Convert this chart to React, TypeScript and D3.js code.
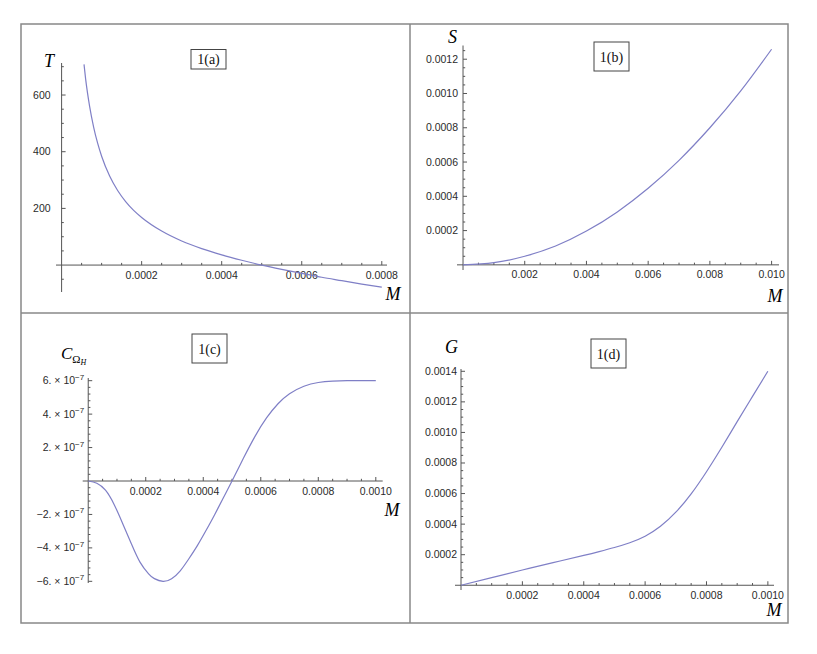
import React from "react";
import * as d3 from "d3";

// ---------- data ----------
const aM = [0.000056, 0.00006, 0.00007, 0.00008, 0.00009, 0.0001, 0.00012, 0.00014, 0.00016, 0.00018, 0.0002, 0.00025, 0.0003, 0.00035, 0.0004, 0.00045, 0.0005, 0.00055, 0.0006, 0.00065, 0.0007, 0.00075, 0.0008];
const aT = [708, 657, 560, 487, 430, 384, 314, 263, 224, 193, 168, 120, 85, 58, 36, 17, 0, -15, -29, -43, -55, -67, -78];

const bM = [0, 0.001, 0.002, 0.003, 0.004, 0.005, 0.006, 0.007, 0.008, 0.009, 0.01];
const bS = [0, 0.000013, 0.00005, 0.00011, 0.000197, 0.000309, 0.000447, 0.00061, 0.0008, 0.001015, 0.001258];

const cM = [0, 0.00003, 0.00006, 0.00009, 0.00012, 0.00015, 0.00018, 0.00021, 0.00023, 0.00026, 0.00029, 0.00032, 0.00035, 0.00038, 0.00041, 0.00044, 0.00047, 0.0005, 0.00054, 0.00058, 0.00062, 0.00066, 0.0007, 0.00075, 0.0008, 0.00085, 0.0009, 0.00095, 0.001];
const cC = [0, -0.13e-7, -0.55e-7, -1.4e-7, -2.55e-7, -3.75e-7, -4.85e-7, -5.55e-7, -5.84e-7, -6.0e-7, -5.84e-7, -5.37e-7, -4.65e-7, -3.85e-7, -2.95e-7, -2.0e-7, -1.0e-7, 0, 1.37e-7, 2.67e-7, 3.77e-7, 4.62e-7, 5.22e-7, 5.67e-7, 5.89e-7, 5.97e-7, 6.0e-7, 6.0e-7, 6.0e-7];

const dM = [0, 0.0001, 0.0002, 0.0003, 0.0004, 0.00045, 0.0005, 0.00055, 0.0006, 0.00065, 0.0007, 0.00075, 0.0008, 0.00085, 0.0009, 0.00095, 0.001];
const dG = [0, 0.00005, 0.0001, 0.000148, 0.000195, 0.00022, 0.000247, 0.000278, 0.0003205, 0.0003855, 0.000478, 0.000598, 0.000743, 0.000903, 0.0010705, 0.0012355, 0.0014005];

const aXTicks = ["0.0002", "0.0004", "0.0006", "0.0008"];
const aYTicks = ["200", "400", "600"];
const bXTicks = ["0.002", "0.004", "0.006", "0.008", "0.010"];
const bYTicks = ["0.0002", "0.0004", "0.0006", "0.0008", "0.0010", "0.0012"];
const cXTicks = ["0.0002", "0.0004", "0.0006", "0.0008", "0.0010"];
const cYTicks = ["6", "4", "2", "-2", "-4", "-6"]; // × 10^-7
const dXTicks = ["0.0002", "0.0004", "0.0006", "0.0008", "0.0010"];
const dYTicks = ["0.0002", "0.0004", "0.0006", "0.0008", "0.0010", "0.0012", "0.0014"];

const panelTags = ["1(a)", "1(b)", "1(c)", "1(d)"];

// ---------- layout ----------
const CURVE = "#7f7fc6";
const AXIS = "#555";
const TICKFONT = "'Liberation Sans Narrow', 'Liberation Sans', Arial, sans-serif";
const SERIF = "'Liberation Serif', 'Times New Roman', serif";
const TICKSIZE = 10.5;

type Panel = {
  xs: number[];
  ys: number[];
  xDom: [number, number];
  xRange: [number, number];
  yDom: [number, number];
  yRange: [number, number];
  xTicks: string[];
  yTicks: string[];
  xMinor: number;
  yMinor: number;
  yLabelGap: number;
  sci?: boolean;
  box: { x: number; y: number; w: number; h: number };
  tag: string;
  yName: React.ReactNode;
  mPos: [number, number];
  curve: d3.CurveFactory;
};

const panels: Panel[] = [
  {
    xs: aM, ys: aT,
    xDom: [-0.000014, 0.000813], xRange: [56, 387],
    yDom: [-95, 713], yRange: [292, 63],
    xTicks: aXTicks, yTicks: aYTicks, xMinor: 0.00005, yMinor: 50,
    yLabelGap: 11,
    box: { x: 191, y: 49.5, w: 35, h: 19.5 }, tag: panelTags[0],
    yName: <text x={49} y={67} fontFamily={SERIF} fontStyle="italic" fontSize={18} textAnchor="middle">T</text>,
    mPos: [393, 300],
    curve: d3.curveMonotoneX,
  },
  {
    xs: bM, ys: bS,
    xDom: [-0.000195, 0.01024], xRange: [457, 779],
    yDom: [-0.00003, 0.00128], yRange: [270, 45.5],
    xTicks: bXTicks, yTicks: bYTicks, xMinor: 0.0005, yMinor: 0.00005,
    yLabelGap: 5,
    box: { x: 594, y: 42, w: 35, h: 29 }, tag: panelTags[1],
    yName: <text x={452.5} y={43} fontFamily={SERIF} fontStyle="italic" fontSize={18} textAnchor="middle">S</text>,
    mPos: [775, 302],
    curve: d3.curveNatural,
  },
  {
    xs: cM, ys: cC,
    xDom: [-0.0000192, 0.001024], xRange: [82.7, 382.7],
    yDom: [-6.1e-7, 6.16e-7], yRange: [583, 378],
    xTicks: cXTicks, yTicks: cYTicks, xMinor: 0.00005, yMinor: 0.4e-7,
    yLabelGap: 4, sci: true,
    box: { x: 192, y: 334, w: 35, h: 29 }, tag: panelTags[2],
    yName: (
      <text x={61} y={358.5} fontFamily={SERIF} fontStyle="italic" fontSize={17}>
        C<tspan fontStyle="normal" fontSize={11} dy={4}>Ω</tspan><tspan fontSize={8} dy={2}>H</tspan>
      </text>
    ),
    mPos: [392, 516],
    curve: d3.curveNatural,
  },
  {
    xs: dM, ys: dG,
    xDom: [-0.0000196, 0.00102], xRange: [455, 774],
    yDom: [-0.000031, 0.001415], yRange: [590, 369],
    xTicks: dXTicks, yTicks: dYTicks, xMinor: 0.00005, yMinor: 0.00005,
    yLabelGap: 4,
    box: { x: 591, y: 339, w: 35, h: 29 }, tag: panelTags[3],
    yName: <text x={451.5} y={353} fontFamily={SERIF} fontStyle="italic" fontSize={18} textAnchor="middle">G</text>,
    mPos: [774, 616],
    curve: d3.curveNatural,
  },
];

function range(step: number, lo: number, hi: number) {
  const out: number[] = [];
  const start = Math.ceil(lo / step);
  const end = Math.floor(hi / step);
  for (let i = start; i <= end; i++) out.push(i * step);
  return out;
}

function PanelView({ p }: { p: Panel }) {
  const x = d3.scaleLinear().domain(p.xDom).range(p.xRange);
  const y = d3.scaleLinear().domain(p.yDom).range(p.yRange);
  const x0 = x(0);
  const y0 = y(0);
  const line = d3
    .line<number>()
    .x((_, i) => x(p.xs[i]))
    .y((v) => y(v))
    .curve(p.curve);

  const xMajorVals = p.xTicks.map((t) => +t);
  const yMajorVals = p.yTicks.map((t) => (p.sci ? +t * 1e-7 : +t));
  const isMajor = (v: number, arr: number[], step: number) =>
    arr.some((m) => Math.abs(m - v) < step * 0.1) || Math.abs(v) < step * 0.1;

  const xMinorVals = range(p.xMinor, p.xDom[0], p.xDom[1]).filter((v) => !isMajor(v, xMajorVals, p.xMinor));
  const yMinorVals = range(p.yMinor, p.yDom[0], p.yDom[1]).filter((v) => !isMajor(v, yMajorVals, p.yMinor));

  return (
    <g>
      <line x1={p.xRange[0]} x2={p.xRange[1]} y1={y0} y2={y0} stroke={AXIS} strokeWidth={1} />
      <line x1={x0} x2={x0} y1={p.yRange[0]} y2={p.yRange[1]} stroke={AXIS} strokeWidth={1} />
      {xMajorVals.map((v, i) => (
        <g key={"xm" + i}>
          <line x1={x(v)} x2={x(v)} y1={y0} y2={y0 - 4} stroke={AXIS} />
          <text x={x(v)} y={y0 + 13.5} fontFamily={TICKFONT} fontSize={TICKSIZE} fill="#2a2a2a" textAnchor="middle">
            {p.xTicks[i]}
          </text>
        </g>
      ))}
      {xMinorVals.map((v, i) => (
        <line key={"xn" + i} x1={x(v)} x2={x(v)} y1={y0} y2={y0 - 2.2} stroke={AXIS} />
      ))}
      {yMajorVals.map((v, i) => (
        <g key={"ym" + i}>
          <line x1={x0} x2={x0 + 4} y1={y(v)} y2={y(v)} stroke={AXIS} />
          {p.sci ? (
            <text x={x0 - p.yLabelGap} y={y(v) + 3.5} fontFamily={TICKFONT} fontSize={TICKSIZE} fill="#2a2a2a" textAnchor="end">
              {(p.yTicks[i].startsWith("-") ? "\u2212" + p.yTicks[i].slice(1) : p.yTicks[i]) + ". \u00d7 10"}
              <tspan fontSize={8} dy={-4.5}>{"\u22127"}</tspan>
            </text>
          ) : (
            <text x={x0 - p.yLabelGap} y={y(v) + 3.5} fontFamily={TICKFONT} fontSize={TICKSIZE} fill="#2a2a2a" textAnchor="end">
              {p.yTicks[i]}
            </text>
          )}
        </g>
      ))}
      {yMinorVals.map((v, i) => (
        <line key={"yn" + i} x1={x0} x2={x0 + 2.2} y1={y(v)} y2={y(v)} stroke={AXIS} />
      ))}
      <path d={line(p.ys) || ""} fill="none" stroke={CURVE} strokeWidth={1.2} />
      <rect x={p.box.x} y={p.box.y} width={p.box.w} height={p.box.h} fill="white" stroke="#444" strokeWidth={1} />
      <text x={p.box.x + p.box.w / 2} y={p.box.y + p.box.h / 2 + 5} fontFamily={SERIF} fontSize={14} textAnchor="middle" fill="#111">
        {p.tag}
      </text>
      {p.yName}
      <text x={p.mPos[0]} y={p.mPos[1]} fontFamily={SERIF} fontStyle="italic" fontSize={18} textAnchor="middle">M</text>
    </g>
  );
}

export default function App() {
  return (
    <svg width={817} height={654} viewBox="0 0 817 654" style={{ position: "absolute", left: 0, top: 0, background: "white" }}>
      <rect x={0} y={0} width={817} height={654} fill="white" />
      <rect x={21} y={24} width={767} height={599} fill="none" stroke="#888" strokeWidth={1.5} />
      <line x1={410} x2={410} y1={24} y2={623} stroke="#888" strokeWidth={1.5} />
      <line x1={21} x2={788} y1={313} y2={313} stroke="#888" strokeWidth={1.5} />
      {panels.map((p, i) => (
        <PanelView key={i} p={p} />
      ))}
    </svg>
  );
}
